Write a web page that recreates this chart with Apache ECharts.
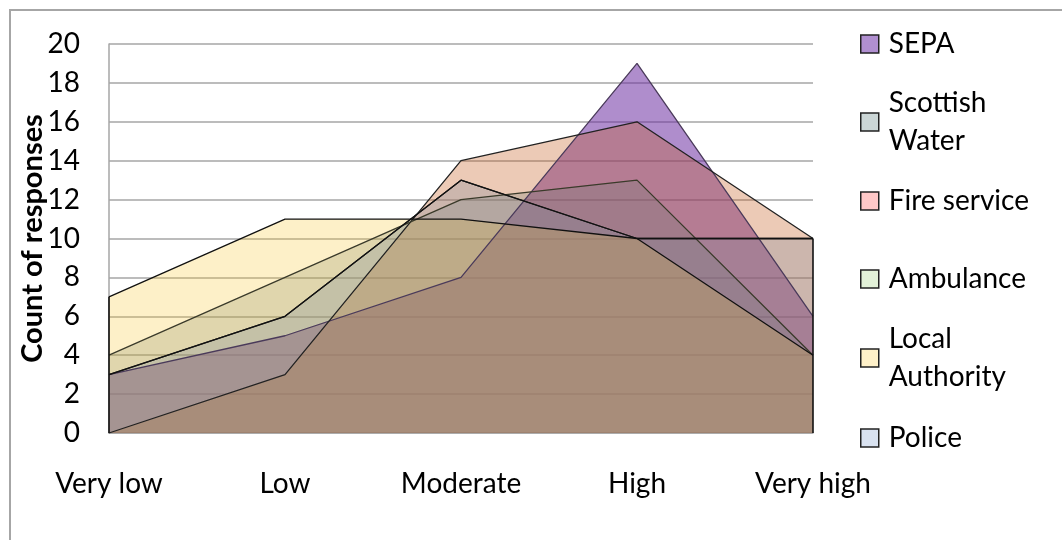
<!DOCTYPE html>
<html>
<head>
<meta charset="utf-8">
<script src="https://cdn.jsdelivr.net/npm/echarts@6/dist/echarts.min.js"></script>
<style>
  html, body { margin: 0; padding: 0; background: #ffffff; }
  #chart { width: 1062px; height: 540px; }
</style>
</head>
<body>
<div id="chart"></div>
<script>
// Risk rating categories along the x axis
const categories = ['Very low', 'Low', 'Moderate', 'High', 'Very high'];

// Count of responses per organisation
const sepa            = [3, 5, 8, 19, 6];
const scottishWater   = [3, 6, 13, 10, 10];
const fireService     = [0, 3, 14, 16, 10];
const ambulance       = [4, 8, 12, 13, 4];
const localAuthority  = [7, 11, 11, 10, 4];
const police          = [3, 6, 13, 10, 10];

// Y axis range
const yMin = 0, yMax = 20, yStep = 2;

const FONT = 'Lato';

// series drawn back to front
const seriesDefs = [
  { name: 'SEPA',            data: sepa,           fill: 'rgba(108,45,161,0.54)', line: '#4a3a5a', swatch: '#b08fd0' },
  { name: 'Scottish Water',  data: scottishWater,  fill: 'rgba(113,149,176,0.10)', line: '#222222', swatch: '#cbd6d6' },
  { name: 'Fire service',    data: fireService,    fill: 'rgba(196,90,28,0.32)',  line: '#222222', swatch: '#ffc8c8' },
  { name: 'Ambulance',       data: ambulance,      fill: 'rgba(104,120,110,0.25)', line: '#3a3a2a', swatch: '#e2f1d8' },
  { name: 'Local Authority', data: localAuthority, fill: 'rgba(247,195,35,0.25)', line: '#111111', swatch: '#fff1c9' },
  { name: 'Police',          data: police,         fill: 'rgba(128,140,165,0.22)', line: '#111111', swatch: '#d9e2f0' }
];

// vertical outline edges of the areas at both ends of the axis
function edgeLine(cat, values, idx) {
  return {
    silent: true,
    symbol: 'none',
    label: { show: false },
    lineStyle: { color: '#111', width: 1.6, type: 'solid' },
    data: [[{ coord: [cat, 0] }, { coord: [cat, values[idx]] }]]
  };
}

const series = seriesDefs.map(function (s) {
  const out = {
    name: s.name,
    type: 'line',
    data: s.data,
    symbol: 'none',
    lineStyle: { color: s.line, width: 1.3 },
    itemStyle: { color: s.swatch },
    areaStyle: { color: s.fill, opacity: 1 },
    emphasis: { disabled: true }
  };
  if (s.name === 'Local Authority') out.markLine = edgeLine(categories[0], localAuthority, 0);
  if (s.name === 'Police') out.markLine = edgeLine(categories[categories.length - 1], police, police.length - 1);
  return out;
});

// legend entries: icon centre y and displayed text
const legendRows = [
  { name: 'SEPA',            y: 44,  text: 'SEPA' },
  { name: 'Scottish Water',  y: 122, text: 'Scottish\nWater' },
  { name: 'Fire service',    y: 201, text: 'Fire service' },
  { name: 'Ambulance',       y: 279, text: 'Ambulance' },
  { name: 'Local Authority', y: 358, text: 'Local\nAuthority' },
  { name: 'Police',          y: 438, text: 'Police' }
];
const LH = 38;
const legends = legendRows.map(function (r) {
  const def = seriesDefs.find(function (s) { return s.name === r.name; });
  const twoLine = r.text.indexOf('\n') >= 0;
  return {
    left: 860,
    top: twoLine ? r.y - 1.5 * LH : r.y - LH / 2,
    padding: 0,
    itemWidth: 18,
    itemHeight: 18,
    icon: 'rect',
    selectedMode: false,
    formatter: function () { return r.text; },
    textStyle: {
      fontFamily: FONT, fontSize: 28, color: '#000', lineHeight: LH,
      padding: twoLine ? [LH, 0, 0, 5] : [0, 0, 0, 5]
    },
    data: [{ name: r.name, itemStyle: { color: def.swatch, borderColor: '#222', borderWidth: 1.5 } }]
  };
});

const chart = echarts.init(document.getElementById('chart'), null, { renderer: 'canvas' });
chart.setOption({
  animation: false,
  backgroundColor: '#ffffff',
  graphic: [{
    type: 'rect', silent: true, z: -10,
    shape: { x: 10, y: 10, width: 1200, height: 700 },
    style: { fill: 'none', stroke: '#a6a6a6', lineWidth: 2 }
  }],
  grid: { left: 109, right: 249, top: 44, bottom: 107, containLabel: false },
  legend: legends,
  xAxis: {
    type: 'category',
    data: categories,
    boundaryGap: false,
    axisLine: { show: true, lineStyle: { color: '#a6a6a6', width: 1.5 } },
    axisTick: { show: false },
    axisLabel: { margin: 37, fontFamily: FONT, fontSize: 28, color: '#000' },
    splitLine: { show: false }
  },
  yAxis: {
    type: 'value',
    min: yMin, max: yMax, interval: yStep,
    name: 'Count of responses',
    nameLocation: 'middle',
    nameGap: 62,
    nameMoveOverlap: false,
    nameTextStyle: { fontFamily: FONT, fontSize: 29, fontWeight: 'bold', color: '#000' },
    axisLine: { show: true, lineStyle: { color: '#a6a6a6', width: 1.5 } },
    axisTick: { show: false },
    axisLabel: { margin: 29, fontFamily: FONT, fontSize: 28, color: '#000' },
    splitLine: { show: true, lineStyle: { color: '#a6a6a6', width: 1.5 } }
  },
  series: series
});
</script>
</body>
</html>
